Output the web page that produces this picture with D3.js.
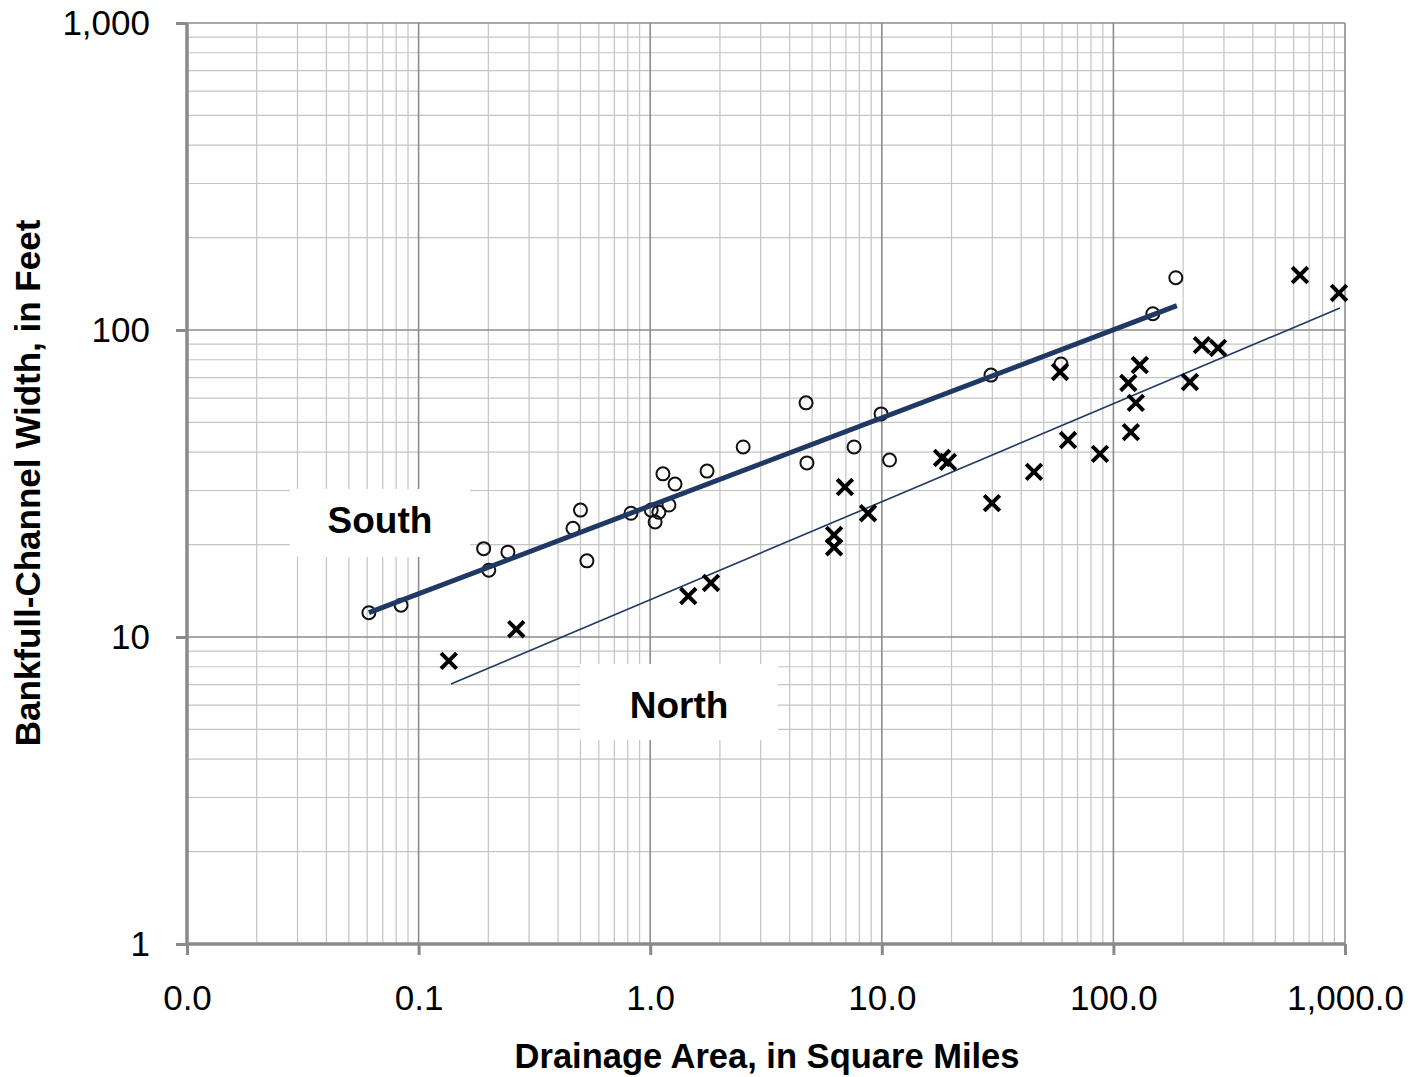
<!DOCTYPE html>
<html>

<head>
  <meta charset='utf-8'>
  <script src="https://cdn.jsdelivr.net/npm/d3@7"></script>
  <style>
    body { margin: 0; background: #fff; }
    text { font-family: "Liberation Sans", Arial, sans-serif; fill: #000; }
  </style>
</head>

<body>
</body>
<script>
  // drainage area (sq mi) and bankfull width (ft)
  let southArea = [0.061, 0.084, 0.191, 0.201, 0.243, 0.464, 0.50, 0.533, 0.826, 1.01, 1.05, 1.09, 1.135,
    1.205, 1.28, 1.76, 2.52, 4.71, 4.75, 7.59, 9.93, 10.8, 29.6, 59.4, 148, 186]
  let southWidth = [12.0, 12.7, 19.4, 16.5, 18.9, 22.6, 25.9, 17.7, 25.3, 25.9, 23.7, 25.5, 34.0,
    26.9, 31.5, 34.7, 41.6, 57.9, 36.9, 41.6, 53.3, 37.7, 71.3, 77.5, 113, 148]
  let northArea = [0.135, 0.264, 1.46, 1.83, 6.22, 6.22, 6.93, 8.72, 18.2, 19.3, 29.9, 45.4, 58.8, 63.7,
    87.5, 116, 119, 125, 130, 214, 241, 283, 639, 942]
  let northWidth = [8.36, 10.6, 13.6, 15.0, 21.5, 19.6, 30.8, 25.3, 38.3, 37.2, 27.3, 34.5, 73.0, 43.8,
    39.5, 67.2, 46.5, 57.9, 76.9, 67.7, 89.3, 87.4, 151, 132]
  // regression line end points
  let southFit = [[0.061, 12.0], [188, 120]]
  let northFit = [[0.138, 7.03], [951, 118]]
  let xTicks = [0.01, 0.1, 1, 10, 100, 1000]
  let yTicks = [1, 10, 100, 1000]

  let w = 1413
  let h = 1077
  let pLeft = 187, pRight = 1345, pTop = 23, pBottom = 944

  let svg = d3.select('body')
    .append('svg')
    .attr('width', w)
    .attr('height', h)

  let xScale = d3.scaleLog().domain([0.01, 1000]).range([pLeft, pRight])
  let yScale = d3.scaleLog().domain([1, 1000]).range([pBottom, pTop])

  // minor grid
  let minorX = [], minorY = []
  xTicks.slice(0, -1).forEach(t => { for (let k = 2; k < 10; k++) minorX.push(t * k) })
  yTicks.slice(0, -1).forEach(t => { for (let k = 2; k < 10; k++) minorY.push(t * k) })

  let grid = svg.append('g')
  grid.selectAll('.mx').data(minorX).enter().append('line')
    .attr('x1', d => xScale(d)).attr('x2', d => xScale(d))
    .attr('y1', pTop).attr('y2', pBottom)
    .attr('stroke', '#c4c4c4').attr('stroke-width', 1.2)
  grid.selectAll('.my').data(minorY).enter().append('line')
    .attr('y1', d => yScale(d)).attr('y2', d => yScale(d))
    .attr('x1', pLeft).attr('x2', pRight)
    .attr('stroke', '#c4c4c4').attr('stroke-width', 1.2)
  grid.selectAll('.Mx').data(xTicks.slice(1)).enter().append('line')
    .attr('x1', d => xScale(d)).attr('x2', d => xScale(d))
    .attr('y1', pTop).attr('y2', pBottom)
    .attr('stroke', '#8c8c8c').attr('stroke-width', 1.6)
  grid.selectAll('.My').data(yTicks.slice(1)).enter().append('line')
    .attr('y1', d => yScale(d)).attr('y2', d => yScale(d))
    .attr('x1', pLeft).attr('x2', pRight)
    .attr('stroke', '#8c8c8c').attr('stroke-width', 1.6)

  // white boxes behind the labels
  svg.append('rect').attr('x', 290).attr('y', 489).attr('width', 180).attr('height', 68).attr('fill', '#fff')
  svg.append('rect').attr('x', 580).attr('y', 664).attr('width', 198).attr('height', 76).attr('fill', '#fff')

  //axis
  let xAxis = d3.axisBottom(xScale)
    .tickValues(xTicks)
    .tickFormat(d3.format(',.1f'))
    .tickSize(11)
    .tickPadding(30)
  let yAxis = d3.axisLeft(yScale)
    .tickValues(yTicks)
    .tickFormat(d3.format(','))
    .tickSize(11)
    .tickPadding(26)

  let gx = svg.append('g')
    .attr('transform', 'translate(0,' + pBottom + ')')
    .call(xAxis)
  let gy = svg.append('g')
    .attr('transform', 'translate(' + pLeft + ',0)')
    .call(yAxis)
  ;[gx, gy].forEach(g => {
    g.select('.domain').attr('stroke', '#8a8a8a').attr('stroke-width', 3.5)
    g.selectAll('.tick line').attr('stroke', '#8a8a8a').attr('stroke-width', 3)
    g.selectAll('.tick text').attr('font-size', 35).attr('font-family', '"Liberation Sans", Arial, sans-serif').attr('fill', '#000')
  })
  gy.select('.domain').attr('d', 'M0,' + pBottom + 'V' + pTop)
  gx.select('.domain').attr('d', 'M' + pLeft + ',0H' + pRight)

  // data
  svg.selectAll('.south').data(southArea).enter().append('circle')
    .attr('cx', d => xScale(d))
    .attr('cy', (d, i) => yScale(southWidth[i]))
    .attr('r', 6.5)
    .attr('fill', 'none')
    .attr('stroke', '#111')
    .attr('stroke-width', 2)

  let line = d3.line().x(d => xScale(d[0])).y(d => yScale(d[1]))
  svg.append('path').attr('d', line(southFit))
    .attr('stroke', '#1f3864').attr('stroke-width', 5).attr('fill', 'none')
  svg.append('path').attr('d', line(northFit))
    .attr('stroke', '#1f3864').attr('stroke-width', 1.6).attr('fill', 'none')

  svg.selectAll('.north').data(northArea).enter().append('path')
    .attr('transform', (d, i) => 'translate(' + xScale(d) + ',' + yScale(northWidth[i]) + ')')
    .attr('d', d3.symbol(d3.symbolX, 160))
    .attr('stroke', '#000')
    .attr('stroke-width', 4)
    .attr('fill', 'none')

  // labels
  svg.append('text').attr('x', 380).attr('y', 533).attr('text-anchor', 'middle')
    .attr('font-size', 37).attr('font-weight', 'bold').text('South')
  svg.append('text').attr('x', 679).attr('y', 718).attr('text-anchor', 'middle')
    .attr('font-size', 37).attr('font-weight', 'bold').text('North')

  svg.append('text').attr('x', 767).attr('y', 1068).attr('text-anchor', 'middle')
    .attr('font-size', 34.5).attr('font-weight', 'bold').text('Drainage Area, in Square Miles')
  svg.append('text').attr('transform', 'translate(40,483) rotate(-90)').attr('text-anchor', 'middle')
    .attr('font-size', 35).attr('font-weight', 'bold').text('Bankfull-Channel Width, in Feet')
</script>

</html>
